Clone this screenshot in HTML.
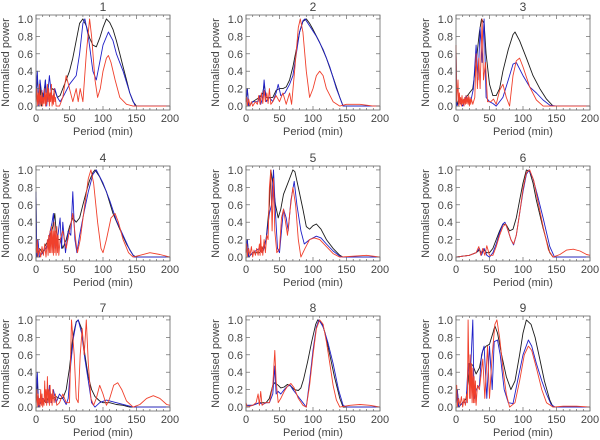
<!DOCTYPE html>
<html><head><meta charset="utf-8">
<style>
html,body{margin:0;padding:0;background:#fff;}
svg{display:block;font-family:"Liberation Sans",sans-serif;}
</style></head>
<body>
<svg id="chart" width="600" height="440" viewBox="0 0 600 440"></svg>
<script>
const panelTitles = ["1","2","3","4","5","6","7","8","9"];
const xTicks = [0,50,100,150,200];
const yTicks = [0.0,0.2,0.4,0.6,0.8,1.0];
const yTickLabels = ["0.0","0.2","0.4","0.6","0.8","1.0"];

const black1=[[0,0.1],[2,0.35],[4,0.05],[6,0.25],[8,0],[10,0.15],[12,0.05],[14,0.3],[16,0.05],[18,0.2],[20,0.1],[24,0.2],[28,0.18],[32,0.1],[36,0.12],[40,0.2],[45,0.3],[50,0.4],[55,0.55],[60,0.75],[65,0.95],[70,1.0],[75,0.92],[80,0.78],[85,0.7],[90,0.68],[95,0.78],[100,0.9],[105,1.0],[110,0.96],[115,0.88],[120,0.75],[125,0.6],[130,0.45],[135,0.3],[140,0.15],[145,0.05],[150,0],[200,0]];
const blue1=[[0,0.1],[2,0.4],[4,0],[6,0.3],[10,0.05],[14,0.3],[16,0],[20,0.35],[24,0.05],[28,0.2],[32,0.1],[36,0.05],[40,0.1],[50,0.25],[60,0.35],[65,0.6],[70,0.95],[73,1.0],[78,0.8],[85,0.4],[90,0.3],[95,0.5],[100,0.7],[108,0.85],[115,0.75],[120,0.6],[130,0.4],[140,0.15],[148,0],[200,0]];
const red1=[[0,0.05],[1,0.2],[2,0],[3,0.15],[4,0.02],[5,0.25],[6,0],[7,0.12],[8,0.02],[9,0.18],[10,0],[11,0.1],[12,0.03],[13,0.2],[14,0],[15,0.15],[16,0.02],[17,0.25],[18,0.05],[19,0.2],[20,0],[21,0.15],[22,0.05],[23,0.25],[24,0],[25,0.12],[26,0.02],[27,0.2],[28,0.05],[29,0.1],[30,0],[35,0],[40,0.1],[45,0.35],[50,0.2],[55,0.05],[60,0.2],[63,0.05],[66,0.2],[70,0.05],[75,0.6],[80,1.0],[83,0.8],[88,0.3],[92,0.1],[96,0.2],[100,0.4],[105,0.55],[108,0.58],[112,0.5],[118,0.3],[125,0.1],[135,0.02],[145,0],[200,0]];

const black2=[[0,0.05],[2,0.2],[4,0],[10,0.05],[20,0.1],[25,0.15],[27,0.25],[30,0.1],[35,0.1],[40,0.1],[45,0.18],[50,0.2],[55,0.2],[60,0.22],[65,0.3],[70,0.45],[75,0.65],[80,0.85],[85,0.97],[90,1.0],[95,0.95],[100,0.88],[110,0.73],[120,0.55],[130,0.33],[140,0.1],[145,0],[200,0]];
const blue2=[[0,0.05],[2,0.2],[4,0],[10,0.05],[18,0.05],[20,0.12],[22,0.02],[25,0.1],[27,0.3],[30,0.05],[35,0.1],[40,0.05],[45,0.15],[48,0.25],[52,0.12],[58,0.15],[65,0.25],[70,0.35],[75,0.6],[80,0.85],[85,0.98],[88,1.0],[95,0.92],[105,0.8],[115,0.65],[125,0.45],[135,0.2],[145,0],[200,0]];
const red2=[[0,0.05],[1,0.1],[2,0],[4,0.08],[6,0],[8,0.05],[10,0],[14,0.05],[17,0.02],[19,0.12],[21,0.02],[23,0.15],[25,0.03],[27,0.18],[29,0.05],[31,0.15],[33,0.03],[35,0.2],[37,0.02],[40,0.05],[45,0.12],[50,0.05],[55,0.15],[60,0.02],[65,0.15],[68,0.02],[72,0.35],[78,0.9],[81,1.0],[85,0.85],[90,0.4],[95,0.1],[100,0.2],[105,0.35],[110,0.4],[115,0.35],[120,0.2],[130,0.05],[140,0],[150,0.02],[170,0.02],[190,0],[200,0]];

const black3=[[0,0.7],[1,0],[5,0.1],[10,0.05],[15,0.1],[20,0.15],[25,0.2],[30,0.5],[35,0.85],[38,1.0],[42,0.95],[45,0.6],[50,0.25],[55,0.12],[60,0.12],[65,0.2],[70,0.4],[78,0.65],[85,0.82],[88,0.85],[95,0.75],[105,0.55],[115,0.35],[125,0.2],[135,0.08],[145,0],[200,0]];
const blue3=[[0,0.65],[1,0],[5,0.05],[10,0],[15,0.12],[18,0.05],[22,0.05],[26,0.2],[30,0.7],[33,0.3],[36,0.9],[39,0.5],[42,1.0],[45,0.1],[50,0.05],[55,0.03],[60,0],[70,0.1],[78,0.3],[85,0.48],[90,0.5],[100,0.35],[110,0.22],[120,0.15],[130,0.07],[140,0.01],[150,0],[200,0]];
const red3=[[0,0.7],[1,0.05],[3,0.3],[4,0],[5,0.15],[6,0.02],[7,0.1],[8,0],[9,0.12],[10,0.02],[11,0.08],[12,0],[13,0.1],[14,0.02],[15,0.12],[16,0.03],[17,0.1],[18,0.02],[19,0.12],[20,0],[21,0.1],[22,0.02],[23,0.08],[25,0.02],[28,0.1],[30,0.6],[32,0.2],[34,0.55],[36,0.2],[39,1.0],[41,0.3],[44,0.5],[47,0.05],[52,0.05],[56,0.08],[60,0.02],[65,0.18],[70,0.25],[75,0.1],[80,0],[85,0.35],[90,0.52],[95,0.55],[100,0.45],[110,0.22],[120,0.07],[130,0],[200,0]];

const black4=[[0,0.75],[1,0],[5,0.1],[10,0.05],[15,0.15],[20,0.2],[25,0.35],[28,0.5],[30,0.3],[33,0.2],[36,0.2],[40,0.1],[45,0.2],[50,0.35],[55,0.45],[60,0.4],[65,0.45],[70,0.6],[75,0.75],[80,0.88],[85,0.97],[88,1.0],[95,0.92],[105,0.75],[115,0.5],[125,0.32],[135,0.15],[145,0.02],[150,0],[200,0]];
const blue4=[[0,0.75],[1,0],[3,0.2],[5,0],[10,0.05],[15,0.1],[20,0.25],[24,0.4],[26,0.5],[28,0.1],[32,0.2],[36,0.45],[38,0.1],[40,0.4],[44,0.05],[48,0.3],[52,0.25],[55,0.75],[58,0.2],[61,0.05],[65,0.25],[70,0.45],[78,0.75],[85,0.95],[90,1.0],[100,0.85],[110,0.65],[120,0.42],[130,0.25],[140,0.08],[147,0],[200,0]];
const red4=[[0,0.1],[1,0.05],[2,0.2],[3,0],[5,0.1],[7,0],[9,0.12],[11,0.02],[13,0.15],[15,0],[17,0.2],[18,0.02],[19,0.25],[20,0.05],[21,0.3],[22,0.05],[23,0.35],[24,0.05],[25,0.3],[26,0.02],[27,0.4],[28,0.05],[29,0.3],[30,0.02],[31,0.35],[32,0.05],[33,0.25],[34,0.02],[36,0.2],[40,0.3],[45,0.1],[50,0.3],[55,0.5],[60,0.15],[62,0.05],[66,0.2],[72,0.55],[78,0.9],[82,1.0],[86,0.85],[92,0.4],[97,0.1],[100,0.05],[105,0.2],[112,0.45],[118,0.5],[123,0.4],[130,0.2],[138,0.05],[145,0],[155,0.02],[170,0.05],[185,0.03],[200,0]];

const black5=[[0,0.05],[2,0.2],[4,0],[10,0.05],[20,0.05],[25,0.1],[30,0.2],[35,0.6],[37,1.0],[40,0.85],[44,0.6],[48,0.45],[52,0.55],[56,0.72],[60,0.8],[65,0.9],[70,1.0],[73,0.98],[78,0.8],[85,0.55],[90,0.35],[95,0.32],[100,0.36],[105,0.38],[112,0.32],[120,0.2],[130,0.1],[140,0.02],[145,0],[200,0]];
const blue5=[[0,0.05],[2,0.2],[4,0],[10,0.05],[20,0.1],[25,0.05],[30,0.2],[35,0.5],[38,0.6],[41,1.0],[44,0.5],[47,0.1],[50,0.05],[53,0.3],[56,0.55],[60,0.45],[63,0.3],[67,0.65],[72,0.87],[76,0.6],[82,0.3],[87,0.15],[95,0.2],[105,0.24],[112,0.22],[120,0.15],[130,0.07],[140,0.01],[145,0],[200,0]];
const red5=[[0,0.05],[1,0.15],[2,0],[4,0.1],[6,0.02],[8,0.12],[10,0],[12,0.08],[14,0.02],[16,0.1],[18,0.02],[20,0.15],[21,0.02],[22,0.25],[23,0.05],[24,0.12],[25,0.02],[27,0.2],[29,0.05],[31,0.25],[33,0.2],[35,0.8],[37,1.0],[39,0.3],[41,0.9],[43,0.3],[46,0.05],[50,0.1],[53,0.45],[56,0.55],[60,0.35],[62,0.25],[66,0.55],[70,0.8],[74,0.6],[78,0.2],[82,0],[88,0.1],[95,0.2],[102,0.22],[110,0.2],[120,0.12],[130,0.04],[140,0],[160,0.01],[180,0.02],[200,0]];

const black6=[[0,0],[20,0.02],[30,0.05],[35,0.08],[38,0.05],[42,0.08],[46,0.05],[50,0.05],[55,0.1],[60,0.2],[65,0.3],[70,0.38],[75,0.37],[80,0.3],[85,0.32],[90,0.45],[95,0.65],[100,0.85],[105,1.0],[110,0.98],[115,0.85],[120,0.65],[130,0.33],[140,0.05],[145,0],[200,0]];
const blue6=[[0,0],[20,0.02],[30,0.05],[35,0.1],[38,0.02],[42,0.1],[46,0.02],[50,0],[55,0.05],[60,0.15],[65,0.28],[70,0.38],[73,0.4],[77,0.32],[82,0.2],[86,0.14],[90,0.25],[95,0.5],[100,0.75],[105,0.95],[109,1.0],[115,0.9],[122,0.7],[130,0.45],[140,0.12],[147,0],[200,0]];
const red6=[[0,0],[20,0.02],[30,0.05],[34,0.12],[37,0.02],[40,0.1],[43,0.02],[46,0.13],[50,0.02],[55,0.02],[60,0.12],[65,0.25],[70,0.35],[74,0.38],[78,0.3],[82,0.2],[86,0.15],[90,0.25],[95,0.5],[100,0.78],[105,0.97],[110,1.0],[116,0.88],[122,0.65],[130,0.35],[138,0.08],[145,0],[155,0.03],[165,0.08],[175,0.09],[185,0.07],[195,0.03],[200,0.02]];

const black7=[[0,0.1],[2,0.3],[4,0],[10,0.1],[15,0.05],[20,0.15],[25,0.1],[30,0.12],[35,0.1],[40,0.1],[45,0.2],[50,0.45],[55,0.8],[60,0.98],[63,1.0],[68,0.9],[73,0.6],[78,0.35],[83,0.2],[88,0.12],[95,0.07],[100,0.05],[110,0.05],[120,0.03],[130,0.02],[140,0],[200,0]];
const blue7=[[0,0.1],[2,0.4],[4,0],[10,0.1],[18,0.05],[20,0.25],[23,0.05],[26,0.2],[30,0.05],[35,0.15],[40,0.1],[45,0.03],[48,0.1],[52,0.5],[56,0.8],[60,0.97],[63,1.0],[68,0.85],[73,0.55],[78,0.3],[83,0.05],[88,0],[95,0.05],[105,0.08],[115,0.06],[125,0.04],[135,0.02],[145,0],[200,0]];
const red7=[[0,0.05],[1,0.2],[2,0],[3,0.15],[4,0.02],[5,0.1],[6,0],[7,0.2],[8,0.02],[9,0.15],[10,0],[11,0.1],[12,0.02],[13,0.3],[14,0.05],[15,0.2],[16,0.02],[17,0.35],[18,0.05],[19,0.2],[20,0.02],[21,0.25],[22,0.05],[23,0.15],[24,0.02],[25,0.2],[27,0.05],[29,0.15],[31,0.02],[35,0.05],[40,0.15],[45,0.05],[50,0.05],[53,1.0],[57,0.6],[60,0.1],[63,0.05],[66,0.6],[69,0.9],[72,0.6],[75,1.0],[78,0.5],[82,0.1],[86,0.02],[90,0.1],[95,0.25],[100,0.15],[105,0.02],[110,0.1],[116,0.25],[122,0.28],[128,0.2],[135,0.07],[145,0],[155,0.03],[165,0.1],[175,0.13],[185,0.1],[195,0.03],[200,0.02]];

const black8=[[0,0.02],[10,0.02],[20,0.05],[25,0.05],[30,0.05],[35,0.1],[40,0.25],[43,0.28],[48,0.25],[52,0.22],[57,0.23],[62,0.26],[67,0.24],[72,0.2],[78,0.19],[82,0.22],[86,0.32],[92,0.52],[98,0.75],[104,0.95],[107,1.0],[113,0.97],[118,0.85],[125,0.6],[132,0.35],[140,0.1],[145,0],[200,0]];
const blue8=[[0,0.02],[10,0.02],[20,0.05],[25,0.03],[30,0.05],[35,0.05],[40,0.15],[43,0.47],[45,0.15],[48,0.18],[52,0.15],[57,0.2],[62,0.24],[66,0.25],[70,0.2],[75,0.15],[80,0.1],[85,0.05],[90,0],[95,0.3],[100,0.65],[105,0.92],[109,1.0],[115,0.92],[122,0.75],[130,0.5],[138,0.2],[145,0.02],[150,0],[200,0]];
const red8=[[0,0.05],[2,0],[10,0.02],[15,0.05],[18,0.15],[20,0.02],[22,0.18],[24,0.02],[28,0.05],[35,0.05],[40,0.25],[43,0.65],[45,0.3],[48,0.05],[52,0.1],[57,0.18],[62,0.24],[67,0.27],[72,0.22],[78,0.1],[85,0.02],[90,0],[95,0.25],[100,0.6],[105,0.9],[110,1.0],[115,0.95],[120,0.75],[125,0.5],[130,0.25],[135,0.08],[140,0],[155,0.02],[170,0.03],[185,0.02],[200,0]];

const black9=[[0,0.05],[2,0.2],[4,0],[10,0.05],[15,0.1],[18,0.3],[20,0.5],[25,0.48],[30,0.38],[35,0.45],[40,0.65],[45,0.7],[50,0.72],[55,0.85],[58,0.93],[62,0.85],[68,0.6],[75,0.35],[82,0.2],[88,0.3],[95,0.6],[100,0.85],[105,1.0],[112,0.95],[118,0.8],[125,0.55],[132,0.3],[140,0.08],[145,0],[200,0]];
const blue9=[[0,0.05],[2,0.2],[4,0],[10,0.05],[15,0.05],[18,0.5],[20,0.3],[22,0.45],[25,1.0],[27,0.1],[30,0.2],[35,0.25],[38,0.6],[42,0.7],[46,0.1],[50,0.7],[54,0.2],[57,0.75],[62,0.77],[66,0.6],[72,0.2],[78,0.05],[85,0.04],[92,0.3],[100,0.6],[108,0.77],[113,0.7],[120,0.5],[128,0.3],[135,0.15],[142,0.03],[148,0],[200,0]];
const red9=[[0,0.1],[1,0.25],[2,0],[4,0.1],[6,0.02],[8,0.12],[10,0],[12,0.1],[14,0.02],[16,0.15],[17,0.05],[18,1.0],[20,0.1],[21,0.6],[22,0.1],[23,0.5],[24,0.05],[25,0.45],[26,0.05],[27,0.35],[28,0.05],[29,0.3],[30,0.02],[32,0.25],[35,0.2],[40,0.55],[43,0.1],[47,0.7],[50,0.1],[54,0.6],[58,0.95],[61,1.0],[65,0.8],[70,0.45],[75,0.15],[80,0],[88,0.05],[95,0.3],[102,0.6],[108,0.7],[113,0.65],[120,0.45],[128,0.2],[135,0.05],[145,0],[160,0.01],[180,0.01],[200,0]];

const blackSeries=[black1,black2,black3,black4,black5,black6,black7,black8,black9];
const blueSeries=[blue1,blue2,blue3,blue4,blue5,blue6,blue7,blue8,blue9];
const redSeries=[red1,red2,red3,red4,red5,red6,red7,red8,red9];

const NS="http://www.w3.org/2000/svg";
const svg=document.getElementById('chart');
const colLeft=[36,246,456], rowTop=[15,166,316];
const PW=134, PH=95;
const XMIN=0,XMAX=200,YMIN=-0.045,YMAX=1.045;
function mk(tag,attrs,parent){const e=document.createElementNS(NS,tag);for(const k in attrs)e.setAttribute(k,attrs[k]);parent.appendChild(e);return e;}

for(let p=0;p<9;p++){
  const L=colLeft[p%3], T=rowTop[Math.floor(p/3)];
  const sx=v=>L+(v-XMIN)/(XMAX-XMIN)*PW;
  const sy=v=>T+PH-(v-YMIN)/(YMAX-YMIN)*PH;
  const g=mk('g',{},svg);
  
  
  const ttl=mk('text',{x:L+PW/2,y:T-4,'text-anchor':'middle','font-size':'12',fill:'#444'},g);
  ttl.textContent=panelTitles[p];
  
  
  // series
  const cols=['#1a1a1a','#2020c8','#f0402c'];
  const names=['black-series','blue-series','red-series'];
  [blackSeries[p],blueSeries[p],redSeries[p]].forEach((s,i)=>{
    const d=s.map((pt,j)=>(j?'L':'M')+sx(pt[0]).toFixed(1)+' '+sy(pt[1]).toFixed(1)).join(' ');
    const path=mk('path',{d:d,fill:'none',stroke:cols[i],'stroke-width':'0.9','stroke-linejoin':'round'},g);
    
    
  });
  // frame
  const fr=mk('rect',{x:L,y:T,width:PW,height:PH,fill:'none',stroke:'#666','stroke-width':'0.8'},g);
  
  
  // x ticks
  for(let v=0;v<=200;v+=10){
    const major=v%50===0, len=major?4:2;
    mk('line',{x1:sx(v),x2:sx(v),y1:T+PH,y2:T+PH-len,stroke:'#666','stroke-width':'0.7'},g);
    mk('line',{x1:sx(v),x2:sx(v),y1:T,y2:T+len,stroke:'#666','stroke-width':'0.7'},g);
  }
  xTicks.forEach(v=>{
    const t=mk('text',{x:sx(v),y:T+PH+12,'text-anchor':'middle','font-size':'11',fill:'#444'},g);
    t.textContent=String(v);
    
    
  });
  yTicks.forEach((v,i)=>{
    mk('line',{x1:L,x2:L+4,y1:sy(v),y2:sy(v),stroke:'#666','stroke-width':'0.7'},g);
    mk('line',{x1:L+PW,x2:L+PW-4,y1:sy(v),y2:sy(v),stroke:'#666','stroke-width':'0.7'},g);
    const t=mk('text',{x:L-3,y:sy(v)+4,'text-anchor':'end','font-size':'11',fill:'#444'},g);
    t.textContent=yTickLabels[i];
    
    
  });
  const xl=mk('text',{x:L+PW/2,y:T+PH+25,'text-anchor':'middle','font-size':'11',fill:'#444'},g);
  xl.textContent='Period (min)';
  
  
  const cy=T+PH/2;
  const yl=mk('text',{x:L-27,y:cy,'text-anchor':'middle','font-size':'11',fill:'#444',transform:'rotate(-90 '+(L-27)+' '+cy+')'},g);
  yl.textContent='Normalised power';
  
  
}
</script>
</body></html>
